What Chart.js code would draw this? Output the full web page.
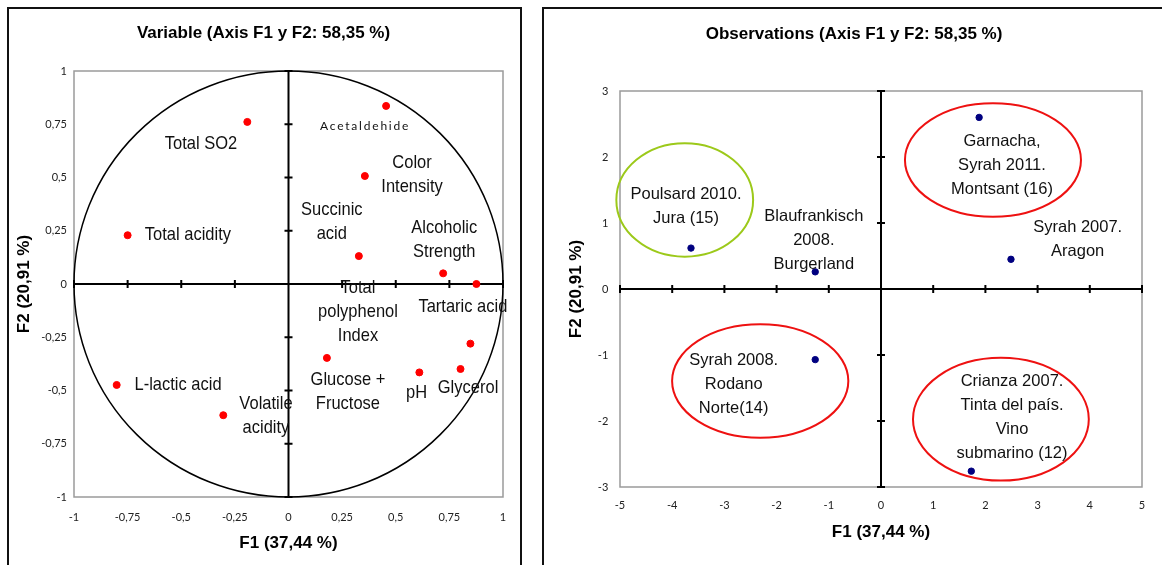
<!DOCTYPE html>
<html>
<head>
<meta charset="utf-8">
<script src="https://cdn.jsdelivr.net/npm/chart.js@4.4.0/dist/chart.umd.min.js"></script>
<style>
	body { margin: 0; background: #fff; width: 1162px; height: 565px; overflow: hidden; position: relative; }
	.panel { position: absolute; border: 2px solid #111; box-sizing: border-box; }
	#boxL { left: 7px; top: 7px; width: 515px; height: 620px; }
	#boxR { left: 542px; top: 7px; width: 660px; height: 620px; }
	canvas { position: absolute; top: 0; }
	#varChart { left: 0; }
	#obsChart { left: 540px; }
</style>
</head>
<body>
<div class="panel" id="boxL"></div>
<div class="panel" id="boxR"></div>
<canvas id="varChart" width="527" height="565"></canvas>
<canvas id="obsChart" width="628" height="565"></canvas>
<script>
//VARIABLES (CORRELATION CIRCLE)
const varNames = ["Acetaldehide", "Total SO2", "Color Intensity", "Total acidity", "Succinic acid",
	"Alcoholic Strength", "Tartaric acid", "Glucose + Fructose", "pH", "Glycerol",
	"Total polyphenol Index", "L-lactic acid", "Volatile acidity"];
const varF1 = [0.455, -0.192, 0.356, -0.75, 0.328, 0.721, 0.876, 0.179, 0.61, 0.802, 0.848, -0.801, -0.304];
const varF2 = [0.836, 0.761, 0.507, 0.229, 0.131, 0.05, 0, -0.347, -0.415, -0.399, -0.28, -0.474, -0.616];
const varTicks = [-1, -0.75, -0.5, -0.25, 0, 0.25, 0.5, 0.75, 1];

//OBSERVATIONS (WINES)
const obsNames = ["Poulsard 2010. Jura (15)", "Blaufrankisch 2008. Burgerland", "Garnacha, Syrah 2011. Montsant (16)",
	"Syrah 2007. Aragon", "Syrah 2008. Rodano Norte(14)", "Crianza 2007. Tinta del país. Vino submarino (12)"];
const obsF1 = [-3.64, -1.26, 1.88, 2.49, -1.26, 1.73];
const obsF2 = [0.62, 0.26, 2.6, 0.45, -1.07, -2.76];
const obsTicksX = [-5, -4, -3, -2, -1, 0, 1, 2, 3, 4, 5];
const obsTicksY = [-3, -2, -1, 0, 1, 2, 3];

//TEXT LABELS (placed in axis units)
const varLabels = [
	{ text: ["Acetaldehide"], x: 0.357, y: 0.739, small: true },
	{ text: ["Total SO2"], x: -0.408, y: 0.657 },
	{ text: ["Color", "Intensity"], x: 0.576, y: 0.567 },
	{ text: ["Succinic", "acid"], x: 0.202, y: 0.347 },
	{ text: ["Total acidity"], x: -0.469, y: 0.229 },
	{ text: ["Alcoholic", "Strength"], x: 0.726, y: 0.264 },
	{ text: ["Total", "polyphenol", "Index"], x: 0.324, y: -0.02 },
	{ text: ["Tartaric acid"], x: 0.813, y: -0.107 },
	{ text: ["L-lactic acid"], x: -0.515, y: -0.474 },
	{ text: ["Volatile", "acidity"], x: -0.105, y: -0.56 },
	{ text: ["Glucose +", "Fructose"], x: 0.277, y: -0.451 },
	{ text: ["pH"], x: 0.597, y: -0.513 },
	{ text: ["Glycerol"], x: 0.837, y: -0.485 },
];
const obsLabels = [
	{ text: ["Poulsard 2010.", "Jura (15)"], x: -3.736, y: 1.439 },
	{ text: ["Blaufrankisch", "2008.", "Burgerland"], x: -1.287, y: 1.095 },
	{ text: ["Garnacha,", "Syrah 2011.", "Montsant (16)"], x: 2.318, y: 2.232 },
	{ text: ["Syrah 2007.", "Aragon"], x: 3.768, y: 0.929 },
	{ text: ["Syrah 2008.", "Rodano", "Norte(14)"], x: -2.822, y: -1.076 },
	{ text: ["Crianza 2007.", "Tinta del país.", "Vino", "submarino (12)"], x: 2.51, y: -1.405 },
];
//GROUP RINGS
const obsRings = [
	{ cx: -3.76, cy: 1.35, rx: 1.31, ry: 0.86, color: "#9cc91a" },
	{ cx: 2.145, cy: 1.955, rx: 1.686, ry: 0.86, color: "#ee1111" },
	{ cx: -2.314, cy: -1.394, rx: 1.688, ry: 0.86, color: "#ee1111" },
	{ cx: 2.297, cy: -1.973, rx: 1.684, ry: 0.93, color: "#ee1111" },
];

const fmt = (v) => String(v).replace(".", ",");

//PLOT FRAME, ZERO AXES, CIRCLE, RINGS AND LABELS
const decor = {
	id: "decor",
	beforeDatasetsDraw(chart, args, opts) {
		const { ctx, chartArea: a, scales: { x, y } } = chart;
		const x0 = x.getPixelForValue(0);
		const y0 = y.getPixelForValue(0);
		ctx.save();
		ctx.strokeStyle = "#9a9a9a";
		ctx.lineWidth = 1.5;
		ctx.strokeRect(a.left, a.top, a.width, a.height);
		ctx.strokeStyle = "#000";
		ctx.lineWidth = 2;
		ctx.beginPath();
		ctx.moveTo(a.left, y0);
		ctx.lineTo(a.right, y0);
		ctx.moveTo(x0, a.top);
		ctx.lineTo(x0, a.bottom);
		x.ticks.forEach((t) => {
			const px = x.getPixelForValue(t.value);
			ctx.moveTo(px, y0 - 4);
			ctx.lineTo(px, y0 + 4);
		});
		y.ticks.forEach((t) => {
			const py = y.getPixelForValue(t.value);
			ctx.moveTo(x0 - 4, py);
			ctx.lineTo(x0 + 4, py);
		});
		ctx.stroke();
		if (opts.circle) {
			ctx.lineWidth = 1.5;
			ctx.beginPath();
			ctx.ellipse(x0, y0, x.getPixelForValue(1) - x0, y0 - y.getPixelForValue(1), 0, 0, Math.PI * 2);
			ctx.stroke();
		}
		(opts.rings || []).forEach((r) => {
			const cx = x.getPixelForValue(r.cx);
			const cy = y.getPixelForValue(r.cy);
			const rx = x.getPixelForValue(r.cx + r.rx) - cx;
			const ry = cy - y.getPixelForValue(r.cy + r.ry);
			ctx.strokeStyle = r.color;
			ctx.lineWidth = 2;
			ctx.beginPath();
			ctx.ellipse(cx, cy, rx, ry, 0, 0, Math.PI * 2);
			ctx.stroke();
		});
		ctx.restore();
	},
	afterDatasetsDraw(chart, args, opts) {
		const { ctx, scales: { x, y } } = chart;
		ctx.save();
		ctx.fillStyle = "#111";
		ctx.textAlign = "center";
		ctx.textBaseline = "middle";
		(opts.labels || []).forEach((l) => {
			const px = x.getPixelForValue(l.x);
			const py = y.getPixelForValue(l.y);
			l.text.forEach((line, i) => {
				ctx.save();
				ctx.translate(px, py + i * 24);
				if (l.small) {
					ctx.font = "12px Lato";
					ctx.letterSpacing = "1.8px";
				} else {
					ctx.font = opts.font;
					ctx.scale(1, opts.stretch || 1);
				}
				ctx.fillText(line, 0, 0);
				ctx.restore();
			});
		});
		ctx.restore();
	},
};

const tickFont = { family: "Lato", size: 11 };
const titleFont = { family: "Liberation Sans", size: 17, weight: "bold" };

const buildChart = (el, cfg) =>
	new Chart(el, {
		type: "scatter",
		data: {
			datasets: [
				{
					data: cfg.xs.map((v, i) => ({ x: v, y: cfg.ys[i] })),
					backgroundColor: cfg.pointColor,
					borderColor: cfg.pointColor,
					pointRadius: cfg.radius,
					pointHoverRadius: cfg.radius,
				},
			],
		},
		options: {
			responsive: false,
			animation: false,
			events: [],
			layout: { padding: 0 },
			plugins: {
				legend: { display: false },
				tooltip: { enabled: false },
				title: {
					display: true,
					text: cfg.title,
					color: "#000",
					font: titleFont,
					padding: { top: cfg.titleTop, bottom: cfg.titleBottom },
				},
				decor: { circle: cfg.circle, rings: cfg.rings, labels: cfg.labels, font: cfg.labelFont, stretch: cfg.stretch },
			},
			scales: {
				x: {
					type: "linear",
					min: cfg.xTicks[0],
					max: cfg.xTicks[cfg.xTicks.length - 1],
					afterFit: (s) => { s.height = cfg.xAxisH; },
					afterBuildTicks: (s) => { s.ticks = cfg.xTicks.map((v) => ({ value: v })); },
					grid: { display: false, drawTicks: false },
					border: { display: false },
					ticks: { padding: cfg.xTickPad, font: tickFont, color: "#222", maxRotation: 0, callback: fmt },
					title: { display: true, text: "F1 (37,44 %)", color: "#000", font: titleFont, padding: { top: 0, bottom: cfg.xTitlePad } },
				},
				y: {
					type: "linear",
					min: cfg.yTicks[0],
					max: cfg.yTicks[cfg.yTicks.length - 1],
					afterFit: (s) => { s.width = cfg.yAxisW; },
					afterBuildTicks: (s) => { s.ticks = cfg.yTicks.map((v) => ({ value: v })); },
					grid: { display: false, drawTicks: false },
					border: { display: false },
					ticks: { padding: cfg.yTickPad, font: tickFont, color: "#222", callback: fmt },
					title: { display: true, text: "F2 (20,91 %)", color: "#000", font: titleFont, padding: { top: cfg.yTitlePad, bottom: 0 } },
				},
				spare: {
					type: "linear",
					position: "right",
					afterFit: (s) => { s.width = cfg.rightW; },
					grid: { display: false, drawTicks: false },
					border: { display: false },
					ticks: { display: false },
				},
			},
		},
		plugins: [decor],
	});

//LEFT: VARIABLES
buildChart(document.getElementById("varChart"), {
	xs: varF1, ys: varF2, pointColor: "#ff0000", radius: 3.5,
	title: "Variable (Axis F1 y F2: 58,35 %)", titleTop: 23, titleBottom: 27.6,
	xTicks: varTicks, yTicks: varTicks,
	xAxisH: 68, yAxisW: 74, rightW: 24,
	xTickPad: 13.4, yTickPad: 7, xTitlePad: 11.5, yTitlePad: 14,
	circle: true, labels: varLabels, labelFont: "16.5px 'Liberation Sans'", stretch: 1.15,
});

//RIGHT: OBSERVATIONS
buildChart(document.getElementById("obsChart"), {
	xs: obsF1, ys: obsF2, pointColor: "#000080", radius: 3.2,
	title: "Observations (Axis F1 y F2: 58,35 %)", titleTop: 24, titleBottom: 46.6,
	xTicks: obsTicksX, yTicks: obsTicksY,
	xAxisH: 78, yAxisW: 80, rightW: 26,
	xTickPad: 12, yTickPad: 11.7, xTitlePad: 22.5, yTitlePad: 26.5,
	circle: false, rings: obsRings, labels: obsLabels, labelFont: "16.5px 'Liberation Sans'", stretch: 1,
});
</script>
</body>
</html>
